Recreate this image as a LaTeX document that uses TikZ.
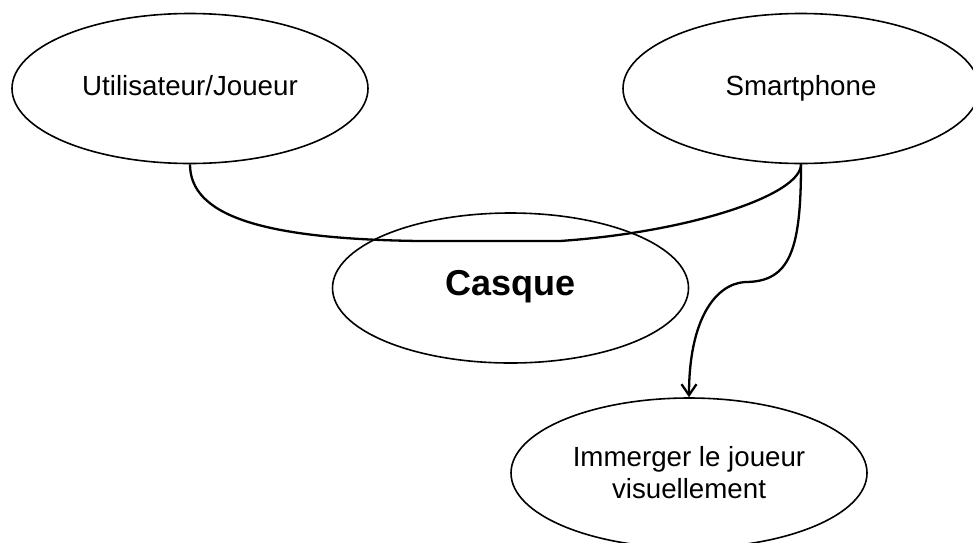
\documentclass[tikz,border=0pt]{standalone}
\usepackage{fontspec}
\setmainfont{Liberation Sans}
\usepackage{tikz}
\usetikzlibrary{shapes.geometric, arrows.meta, positioning}
\tikzstyle{usecase} = [ellipse, draw, line width=0.8pt, minimum width=178pt, minimum height=75pt, inner sep=0pt, align=center, font=\fontsize{13.85}{16}\selectfont]
\tikzstyle{oneline} = [text height=0.74em, text depth=0.02em]
\tikzstyle{link} = [line width=1.15pt]
\tikzstyle{arrow} = [line width=1.15pt, -{Straight Barb[length=5.5pt, width=7.5pt]}]

\begin{document}
\begin{tikzpicture}[x=0.5pt, y=-0.5pt]
    \useasboundingbox (0,0) rectangle (973,542);
    \node (user) [usecase, oneline] at (190,88.5) {Utilisateur/Joueur};
    \node (phone) [usecase, oneline] at (801,88.5) {Smartphone};
    \node (helmet) [usecase, oneline, font=\fontsize{18}{20}\selectfont\bfseries] at (510.5,288) {Casque};
    \node (immerse) [usecase] at (689,473) {Immerger le joueur\\visuellement};

    \draw [link] (user.south) .. controls (190,215) and (260,239) .. (420,241) -- (560,241) .. controls (690,232) and (801,195) .. (phone.south);
    \draw [arrow] (phone.south) .. controls (801,250) and (790,282) .. (745,282) .. controls (715,284) and (689,320) .. (immerse.north);
  \end{tikzpicture}
\end{document}
